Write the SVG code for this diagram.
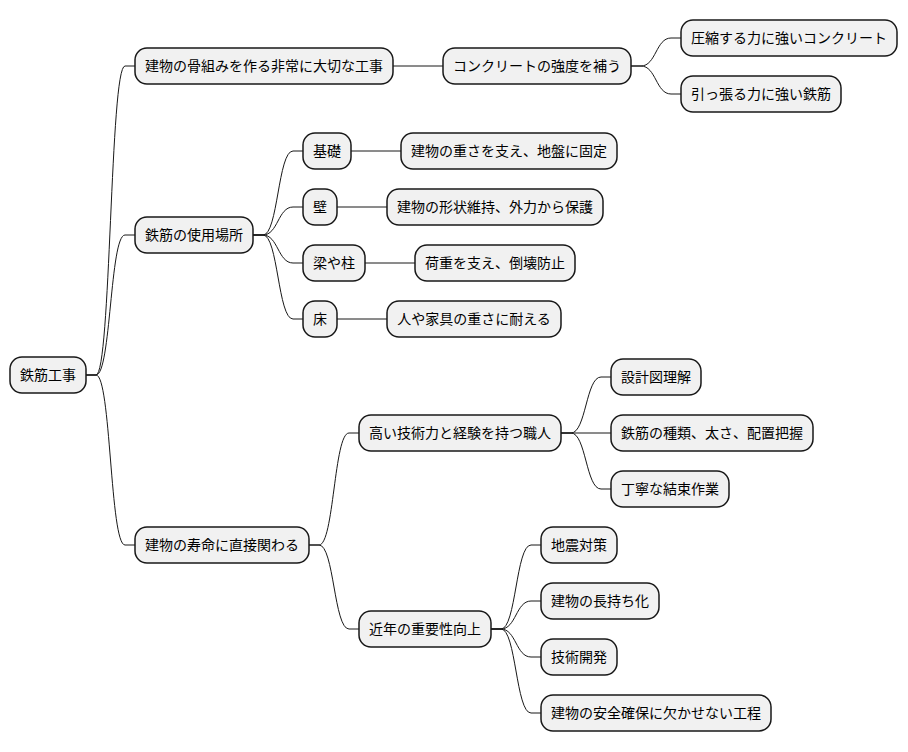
<svg xmlns="http://www.w3.org/2000/svg" width="908" height="752" viewBox="0 0 908 752">
<style>
.n rect{fill:#F1F1F1;stroke:#181818;stroke-width:1.5}
.n text{font-family:"Noto Sans CJK JP","DejaVu Sans",sans-serif;font-size:14px;fill:#000;text-anchor:middle}
#links path{fill:none;stroke:#181818;stroke-width:1}
</style>
<rect width="908" height="752" fill="#FFFFFF"/>
<g id="links">
<path d="M86 375 L96 375 C111 375 110 66 125 66 L135 66"/>
<path d="M86 375 L96 375 C111 375 110 235 125 235 L135 235"/>
<path d="M86 375 L96 375 C111 375 110 545 125 545 L135 545"/>
<path d="M393 66 L443 66"/>
<path d="M631 66 L641 66 C656 66 656 38 671 38 L681 38"/>
<path d="M631 66 L641 66 C656 66 656 94 671 94 L681 94"/>
<path d="M253 235 L263 235 C278 235 278 151 293 151 L303 151"/>
<path d="M253 235 L263 235 C278 235 278 207 293 207 L303 207"/>
<path d="M253 235 L263 235 C278 235 278 263 293 263 L303 263"/>
<path d="M253 235 L263 235 C278 235 278 319 293 319 L303 319"/>
<path d="M351 151 L401 151"/>
<path d="M337 207 L387 207"/>
<path d="M365 263 L415 263"/>
<path d="M337 319 L387 319"/>
<path d="M309 545 L319 545 C334 545 334 433 349 433 L359 433"/>
<path d="M309 545 L319 545 C334 545 334 629 349 629 L359 629"/>
<path d="M561 433 L571 433 C586 433 586 377 601 377 L611 377"/>
<path d="M561 433 L611 433"/>
<path d="M561 433 L571 433 C586 433 586 489 601 489 L611 489"/>
<path d="M491 629 L501 629 C516 629 516 545 531 545 L541 545"/>
<path d="M491 629 L501 629 C516 629 516 601 531 601 L541 601"/>
<path d="M491 629 L501 629 C516 629 516 657 531 657 L541 657"/>
<path d="M491 629 L501 629 C516 629 516 713 531 713 L541 713"/>
</g>
<g id="root" class="n"><rect x="10" y="357" width="76" height="36" rx="12"/><text x="48" y="380">鉄筋工事</text></g>
<g id="n1" class="n"><rect x="135" y="48" width="258" height="36" rx="12"/><text x="264" y="71">建物の骨組みを作る非常に大切な工事</text></g>
<g id="n1a" class="n"><rect x="443" y="48" width="188" height="36" rx="12"/><text x="537" y="71">コンクリートの強度を補う</text></g>
<g id="n1a1" class="n"><rect x="681" y="20" width="216" height="36" rx="12"/><text x="789" y="43">圧縮する力に強いコンクリート</text></g>
<g id="n1a2" class="n"><rect x="681" y="76" width="160" height="36" rx="12"/><text x="761" y="99">引っ張る力に強い鉄筋</text></g>
<g id="n2" class="n"><rect x="135" y="217" width="118" height="36" rx="12"/><text x="194" y="240">鉄筋の使用場所</text></g>
<g id="n2a" class="n"><rect x="303" y="133" width="48" height="36" rx="12"/><text x="327" y="156">基礎</text></g>
<g id="n2a1" class="n"><rect x="401" y="133" width="216" height="36" rx="12"/><text x="509" y="156">建物の重さを支え、地盤に固定</text></g>
<g id="n2b" class="n"><rect x="303" y="189" width="34" height="36" rx="12"/><text x="320" y="212">壁</text></g>
<g id="n2b1" class="n"><rect x="387" y="189" width="216" height="36" rx="12"/><text x="495" y="212">建物の形状維持、外力から保護</text></g>
<g id="n2c" class="n"><rect x="303" y="245" width="62" height="36" rx="12"/><text x="334" y="268">梁や柱</text></g>
<g id="n2c1" class="n"><rect x="415" y="245" width="160" height="36" rx="12"/><text x="495" y="268">荷重を支え、倒壊防止</text></g>
<g id="n2d" class="n"><rect x="303" y="301" width="34" height="36" rx="12"/><text x="320" y="324">床</text></g>
<g id="n2d1" class="n"><rect x="387" y="301" width="174" height="36" rx="12"/><text x="474" y="324">人や家具の重さに耐える</text></g>
<g id="n3" class="n"><rect x="135" y="527" width="174" height="36" rx="12"/><text x="222" y="550">建物の寿命に直接関わる</text></g>
<g id="n3a" class="n"><rect x="359" y="415" width="202" height="36" rx="12"/><text x="460" y="438">高い技術力と経験を持つ職人</text></g>
<g id="n3a1" class="n"><rect x="611" y="359" width="90" height="36" rx="12"/><text x="656" y="382">設計図理解</text></g>
<g id="n3a2" class="n"><rect x="611" y="415" width="202" height="36" rx="12"/><text x="712" y="438">鉄筋の種類、太さ、配置把握</text></g>
<g id="n3a3" class="n"><rect x="611" y="471" width="118" height="36" rx="12"/><text x="670" y="494">丁寧な結束作業</text></g>
<g id="n3b" class="n"><rect x="359" y="611" width="132" height="36" rx="12"/><text x="425" y="634">近年の重要性向上</text></g>
<g id="n3b1" class="n"><rect x="541" y="527" width="76" height="36" rx="12"/><text x="579" y="550">地震対策</text></g>
<g id="n3b2" class="n"><rect x="541" y="583" width="118" height="36" rx="12"/><text x="600" y="606">建物の長持ち化</text></g>
<g id="n3b3" class="n"><rect x="541" y="639" width="76" height="36" rx="12"/><text x="579" y="662">技術開発</text></g>
<g id="n3b4" class="n"><rect x="541" y="695" width="230" height="36" rx="12"/><text x="656" y="718">建物の安全確保に欠かせない工程</text></g>
</svg>
